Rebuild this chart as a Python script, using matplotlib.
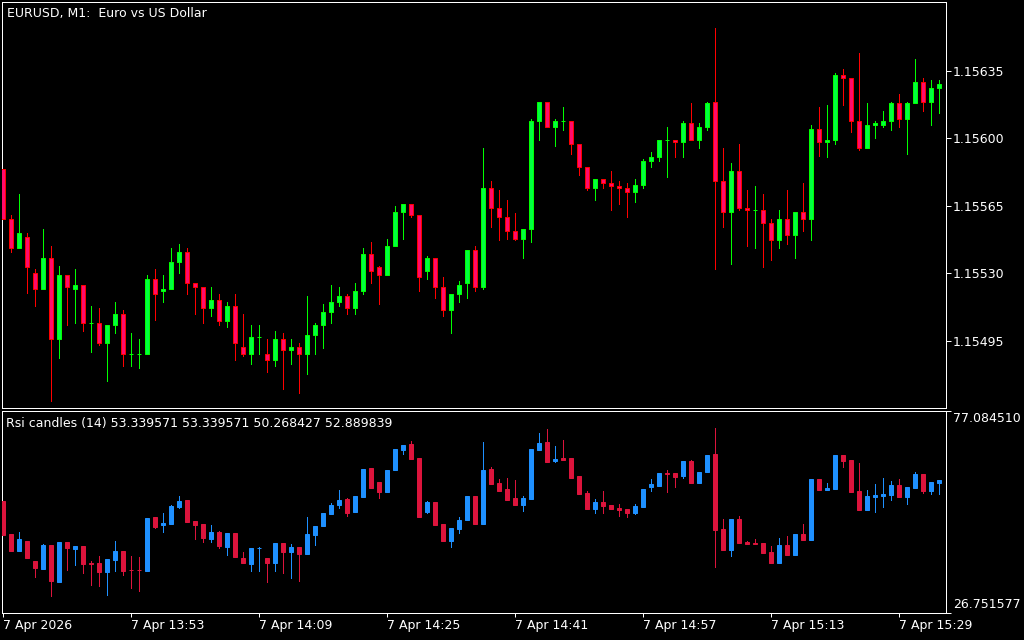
import matplotlib
matplotlib.use("Agg")
import matplotlib.pyplot as plt
import numpy as np

# EURUSD M1 candles (open, high, low, close), 13:37 .. 15:34
price_open = [1.15584, 1.15558, 1.15543, 1.15549, 1.15530, 1.15522, 1.15538, 1.15496, 1.15529, 1.15522,
              1.15524, 1.15504, 1.15504, 1.15494, 1.15503, 1.15509, 1.15488, 1.15488, 1.15488, 1.15527,
              1.15521, 1.15522, 1.15536, 1.15541, 1.15525, 1.15523, 1.15512, 1.15516, 1.15505, 1.15513,
              1.15492, 1.15488, 1.15497, 1.15488, 1.15485, 1.15496, 1.15490, 1.15492, 1.15488, 1.15498,
              1.15503, 1.15510, 1.15515, 1.15518, 1.15512, 1.15521, 1.15540, 1.15533, 1.15529, 1.15544,
              1.15562, 1.15566, 1.15560, 1.15531, 1.15538, 1.15523, 1.15511, 1.15519, 1.15525, 1.15542,
              1.15523, 1.15574, 1.15564, 1.15559, 1.15552, 1.15548, 1.15553, 1.15609, 1.15619, 1.15606,
              1.15609, 1.15609, 1.15597, 1.15585, 1.15574, 1.15579, 1.15577, 1.15575, 1.15574, 1.15572,
              1.15576, 1.15588, 1.15590, 1.15599, 1.15599, 1.15598, 1.15608, 1.15599, 1.15606, 1.15619,
              1.15578, 1.15562, 1.15583, 1.15564, 1.15563, 1.15563, 1.15556, 1.15547, 1.15558, 1.15550,
              1.15562, 1.15558, 1.15605, 1.15598, 1.15599, 1.15633, 1.15631, 1.15609, 1.15595, 1.15607,
              1.15607, 1.15609, 1.15618, 1.15610, 1.15618, 1.15629, 1.15619, 1.15626]
price_high = [1.15584, 1.15560, 1.15571, 1.15551, 1.15532, 1.15553, 1.15544, 1.15534, 1.15529, 1.15532,
              1.15524, 1.15513, 1.15512, 1.15503, 1.15515, 1.15511, 1.15499, 1.15496, 1.15529, 1.15532,
              1.15529, 1.15543, 1.15545, 1.15543, 1.15525, 1.15523, 1.15523, 1.15519, 1.15515, 1.15519,
              1.15509, 1.15503, 1.15503, 1.15496, 1.15500, 1.15499, 1.15496, 1.15494, 1.15518, 1.15504,
              1.15514, 1.15524, 1.15523, 1.15519, 1.15525, 1.15543, 1.15546, 1.15534, 1.15548, 1.15565,
              1.15566, 1.15566, 1.15560, 1.15539, 1.15538, 1.15528, 1.15519, 1.15526, 1.15542, 1.15544,
              1.15595, 1.15578, 1.15573, 1.15568, 1.15561, 1.15553, 1.15610, 1.15619, 1.15619, 1.15610,
              1.15616, 1.15609, 1.15597, 1.15585, 1.15579, 1.15579, 1.15583, 1.15578, 1.15577, 1.15579,
              1.15589, 1.15593, 1.15599, 1.15606, 1.15599, 1.15609, 1.15618, 1.15608, 1.15619, 1.15657,
              1.15595, 1.15587, 1.15597, 1.15573, 1.15575, 1.15571, 1.15558, 1.15563, 1.15573, 1.15562,
              1.15577, 1.15607, 1.15616, 1.15617, 1.15634, 1.15636, 1.15631, 1.15644, 1.15618, 1.15609,
              1.15614, 1.15619, 1.15623, 1.15619, 1.15641, 1.15631, 1.15630, 1.15630]
price_low = [1.15558, 1.15541, 1.15543, 1.15520, 1.15513, 1.15522, 1.15464, 1.15486, 1.15503, 1.15504,
             1.15500, 1.15489, 1.15493, 1.15474, 1.15499, 1.15482, 1.15482, 1.15481, 1.15488, 1.15506,
             1.15515, 1.15522, 1.15530, 1.15519, 1.15509, 1.15504, 1.15508, 1.15503, 1.15502, 1.15485,
             1.15487, 1.15483, 1.15488, 1.15479, 1.15482, 1.15470, 1.15483, 1.15468, 1.15478, 1.15488,
             1.15491, 1.15504, 1.15513, 1.15509, 1.15509, 1.15519, 1.15525, 1.15514, 1.15529, 1.15544,
             1.15548, 1.15559, 1.15521, 1.15527, 1.15517, 1.15508, 1.15499, 1.15515, 1.15517, 1.15521,
             1.15522, 1.15554, 1.15547, 1.15548, 1.15547, 1.15538, 1.15546, 1.15599, 1.15606, 1.15596,
             1.15604, 1.15592, 1.15581, 1.15573, 1.15568, 1.15574, 1.15563, 1.15566, 1.15559, 1.15567,
             1.15574, 1.15585, 1.15588, 1.15580, 1.15590, 1.15590, 1.15599, 1.15595, 1.15604, 1.15532,
             1.15554, 1.15535, 1.15563, 1.15544, 1.15543, 1.15533, 1.15537, 1.15543, 1.15545, 1.15538,
             1.15552, 1.15547, 1.15591, 1.15590, 1.15597, 1.15617, 1.15603, 1.15594, 1.15595, 1.15600,
             1.15606, 1.15604, 1.15606, 1.15592, 1.15618, 1.15614, 1.15607, 1.15613]
price_close = [1.15558, 1.15543, 1.15551, 1.15533, 1.15522, 1.15538, 1.15496, 1.15529, 1.15523, 1.15524,
               1.15504, 1.15504, 1.15494, 1.15503, 1.15509, 1.15488, 1.15488, 1.15488, 1.15527, 1.15519,
               1.15522, 1.15536, 1.15541, 1.15525, 1.15523, 1.15512, 1.15516, 1.15505, 1.15513, 1.15494,
               1.15488, 1.15497, 1.15497, 1.15485, 1.15496, 1.15490, 1.15492, 1.15488, 1.15498, 1.15503,
               1.15510, 1.15515, 1.15518, 1.15512, 1.15521, 1.15540, 1.15531, 1.15529, 1.15544, 1.15562,
               1.15566, 1.15560, 1.15528, 1.15538, 1.15523, 1.15511, 1.15519, 1.15524, 1.15542, 1.15523,
               1.15574, 1.15564, 1.15559, 1.15552, 1.15548, 1.15553, 1.15609, 1.15619, 1.15606, 1.15609,
               1.15609, 1.15597, 1.15585, 1.15574, 1.15579, 1.15577, 1.15575, 1.15574, 1.15572, 1.15576,
               1.15588, 1.15590, 1.15599, 1.15599, 1.15598, 1.15608, 1.15599, 1.15606, 1.15618, 1.15578,
               1.15562, 1.15583, 1.15564, 1.15563, 1.15563, 1.15556, 1.15547, 1.15558, 1.15550, 1.15562,
               1.15558, 1.15605, 1.15598, 1.15599, 1.15633, 1.15631, 1.15609, 1.15595, 1.15607, 1.15608,
               1.15609, 1.15618, 1.15610, 1.15618, 1.15629, 1.15619, 1.15626, 1.15628]

# Rsi candles (14)
rsi_open = [54.58, 46.36, 42.21, 44.62, 39.63, 37.72, 43.62, 34.49, 44.37, 42.71,
            43.37, 39.05, 39.13, 36.98, 39.97, 42.13, 37.32, 37.32, 37.23, 50.60,
            48.69, 48.94, 53.09, 54.83, 49.60, 48.86, 45.12, 46.86, 43.12, 46.61,
            40.38, 38.89, 42.79, 40.38, 39.13, 44.12, 41.88, 43.12, 41.38, 46.11,
            48.44, 51.43, 53.59, 55.08, 51.93, 55.66, 62.81, 59.24, 56.91, 62.39,
            67.29, 68.79, 65.30, 51.93, 54.34, 48.86, 44.70, 47.69, 49.93, 55.83,
            48.94, 62.56, 59.07, 57.57, 55.33, 53.59, 55.17, 67.38, 69.29, 64.63,
            65.30, 65.30, 60.81, 56.58, 52.67, 54.34, 53.59, 52.84, 52.59, 51.68,
            53.18, 58.15, 58.32, 61.56, 61.56, 60.81, 64.55, 59.07, 61.81, 66.30,
            47.61, 42.37, 50.10, 44.37, 44.20, 44.12, 41.88, 39.13, 43.62, 41.13,
            46.36, 44.87, 60.07, 57.33, 57.58, 66.05, 64.80, 57.08, 52.34, 55.66,
            55.83, 56.08, 58.57, 55.58, 57.82, 61.31, 57.08, 59.15]
rsi_high = [54.58, 46.36, 46.86, 44.62, 39.63, 43.87, 43.62, 44.37, 44.37, 43.37,
            43.37, 39.72, 40.88, 40.13, 44.62, 42.13, 40.88, 40.63, 50.27, 50.60,
            51.60, 53.59, 55.83, 54.83, 49.60, 48.86, 48.61, 47.11, 46.61, 46.61,
            41.88, 42.79, 43.04, 40.38, 44.12, 44.12, 43.87, 43.12, 50.60, 48.36,
            51.60, 54.09, 57.33, 55.33, 55.83, 62.56, 62.81, 59.24, 62.31, 67.54,
            68.54, 69.53, 65.30, 54.58, 54.34, 48.86, 47.86, 50.60, 55.83, 55.83,
            69.29, 63.06, 60.07, 60.32, 59.82, 55.83, 67.54, 71.53, 72.52, 68.29,
            69.78, 65.30, 60.81, 57.08, 55.08, 57.08, 53.59, 53.84, 52.59, 53.84,
            57.58, 60.07, 61.56, 62.31, 61.56, 64.55, 64.80, 61.81, 66.05, 72.77,
            50.10, 50.10, 50.85, 44.62, 45.12, 44.12, 43.37, 45.36, 45.86, 46.36,
            48.86, 60.07, 60.07, 59.07, 66.05, 66.05, 64.80, 64.06, 57.33, 58.82,
            60.32, 59.57, 60.07, 58.07, 61.81, 61.31, 59.32, 59.82]
rsi_low = [46.11, 42.21, 42.21, 40.46, 35.73, 37.72, 30.99, 34.49, 37.47, 38.72,
           36.73, 33.74, 33.49, 31.24, 37.23, 36.23, 33.00, 32.24, 37.23, 47.94,
           46.94, 48.94, 52.84, 49.35, 45.12, 44.45, 44.45, 42.87, 41.13, 40.63,
           39.13, 37.14, 37.23, 34.49, 37.23, 36.73, 35.48, 34.73, 41.38, 43.62,
           48.44, 51.43, 52.84, 50.93, 51.93, 55.66, 57.91, 55.42, 56.91, 62.39,
           66.38, 65.13, 50.68, 51.68, 48.69, 44.70, 43.20, 46.69, 49.93, 48.94,
           48.94, 58.90, 57.16, 54.92, 53.67, 52.09, 55.17, 67.38, 64.39, 64.39,
           64.88, 60.40, 56.41, 52.67, 51.68, 51.68, 52.67, 50.93, 50.68, 51.43,
           53.18, 57.08, 58.32, 56.83, 58.07, 60.32, 59.07, 59.07, 61.81, 38.14,
           42.37, 40.88, 44.12, 43.87, 43.87, 41.63, 39.13, 39.13, 41.13, 41.13,
           44.87, 44.87, 57.33, 57.33, 57.58, 63.06, 56.83, 52.34, 52.34, 51.84,
           53.09, 54.83, 55.58, 53.84, 57.82, 56.58, 56.33, 56.33]
rsi_close = [46.11, 42.21, 45.03, 40.46, 37.97, 43.62, 34.73, 44.37, 42.96, 43.37,
             38.97, 39.00, 36.98, 40.13, 42.13, 37.23, 37.28, 37.28, 50.27, 48.19,
             49.19, 53.34, 54.58, 49.35, 48.61, 45.45, 46.86, 43.37, 46.61, 40.63,
             39.13, 42.79, 42.96, 39.13, 44.12, 41.88, 43.04, 41.38, 46.36, 48.36,
             51.60, 53.59, 54.83, 51.68, 55.83, 62.56, 57.91, 56.91, 62.31, 67.54,
             68.54, 65.13, 50.68, 54.34, 48.69, 44.70, 47.86, 49.85, 55.83, 48.94,
             62.31, 58.90, 57.16, 54.92, 53.67, 55.33, 67.54, 69.04, 64.39, 65.05,
             64.88, 60.40, 56.41, 52.67, 54.34, 53.42, 52.67, 52.42, 51.68, 53.34,
             57.58, 58.82, 61.56, 61.31, 60.65, 64.55, 59.07, 61.81, 66.05, 47.36,
             42.37, 50.10, 44.12, 43.87, 43.87, 41.63, 39.13, 43.62, 41.13, 46.36,
             44.87, 60.07, 57.33, 57.83, 66.05, 64.55, 56.83, 52.34, 55.83, 56.08,
             56.33, 58.57, 55.58, 58.07, 61.31, 57.08, 59.32, 59.82]

price_ticks = [1.15495, 1.15530, 1.15565, 1.15600, 1.15635]
time_pos = [0, 16, 32, 48, 64, 80, 96, 112]
time_labels = ["7 Apr 2026", "7 Apr 13:53", "7 Apr 14:09", "7 Apr 14:25",
               "7 Apr 14:41", "7 Apr 14:57", "7 Apr 15:13", "7 Apr 15:29"]
rsi_max = 77.084510
rsi_min = 26.751577

W, H = 1024, 640
PX = 0.72  # one pixel in points at dpi 100
FS = 9


def candles(ax, o, h, l, c, up_fill, up_edge, dn_fill, dn_edge, width):
    o, h, l, c = map(np.asarray, (o, h, l, c))
    x = np.arange(len(o))
    up = c >= o
    ax.vlines(x[up], l[up], h[up], color=up_edge, lw=PX, zorder=2, antialiased=False)
    ax.vlines(x[~up], l[~up], h[~up], color=dn_edge, lw=PX, zorder=2, antialiased=False)
    ax.bar(x[up], c[up] - o[up], bottom=o[up], width=width,
           color=up_fill, edgecolor=up_edge, lw=PX, zorder=3)
    ax.bar(x[~up], c[~up] - o[~up], bottom=o[~up], width=width,
           color=dn_fill, edgecolor=dn_edge, lw=PX, zorder=3)


def style(ax):
    ax.set_facecolor("black")
    for s in ax.spines.values():
        s.set_color("white")
        s.set_linewidth(PX)
    ax.tick_params(colors="white", labelsize=FS, width=PX)


fig = plt.figure(figsize=(W / 100, H / 100), dpi=100, facecolor="black")

xlo, xhi = (2 - 2.7) / 8, (946 - 2.7) / 8

# main price panel
ax = fig.add_axes([2 / W, 1 - 408.3 / H, 944 / W, 406.3 / H])
style(ax)
candles(ax, price_open, price_high, price_low, price_close,
        "#00FF40", "#00FF00", "#FF0A6C", "#FF0000", 0.5)
ax.set_xlim(xlo, xhi)
ax.set_ylim(1.154600, 1.156706)
ax.set_xticks([])
ax.yaxis.tick_right()
ax.set_yticks(price_ticks)
ax.set_yticklabels(["%.5f" % v for v in price_ticks])
ax.tick_params(axis="y", length=3.6, pad=1.5)

# rsi candles panel
ax2 = fig.add_axes([2 / W, 1 - 612.7 / H, 944 / W, 202 / H])
style(ax2)
candles(ax2, rsi_open, rsi_high, rsi_low, rsi_close,
        "#1E90FF", "#1E90FF", "#DC143C", "#DC143C", 0.5)
ax2.set_xlim(xlo, xhi)
ax2.set_ylim(rsi_min, rsi_max)
ax2.yaxis.tick_right()
ax2.set_yticks([rsi_min, rsi_max])
ax2.set_yticklabels([])
ax2.tick_params(axis="y", length=3.6)
ax2.set_xticks(time_pos)
ax2.set_xticklabels(time_labels, ha="left")
ax2.tick_params(axis="x", length=3.2, pad=1.5)

fig.text(953 / W, 1 - 419 / H, "%.6f" % rsi_max, color="white", fontsize=FS, va="center")
fig.text(953 / W, 1 - 605 / H, "%.6f" % rsi_min, color="white", fontsize=FS, va="center")

fig.text(7 / W, 1 - 13 / H, "EURUSD, M1:  Euro vs US Dollar", color="white", fontsize=FS, va="center")
fig.text(6 / W, 1 - 423 / H, "Rsi candles (14) 53.339571 53.339571 50.268427 52.889839",
         color="white", fontsize=FS, va="center")

fig.savefig("out.png", dpi=100, facecolor="black")
